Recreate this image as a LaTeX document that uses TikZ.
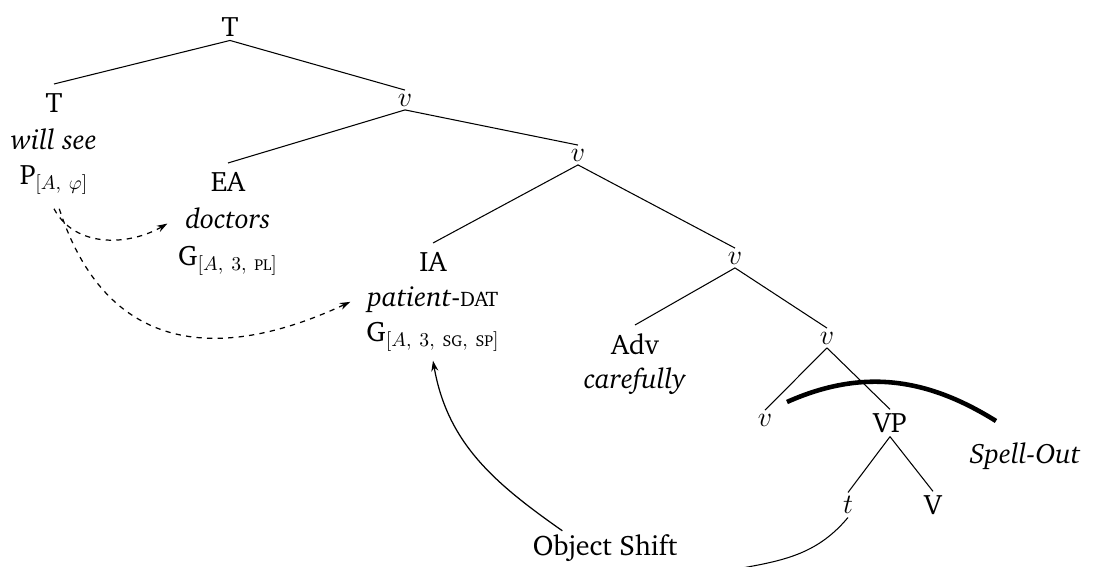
\RequirePackage{fix-cm}
\documentclass[tikz,border=0pt]{standalone}
\usepackage[T1]{fontenc}
\renewcommand{\rmdefault}{bch}
\usepackage{amsmath}
\usetikzlibrary{arrows.meta}
\newcommand{\fsc}[1]{\MakeUppercase{#1}}

\begin{document}
\begin{tikzpicture} [
      x=0.02cm, y=-0.02cm,
      font=\fontsize{16}{19}\selectfont,
      >={Stealth[length=6pt, width=4pt]},
      cat/.style={inner sep=2pt, align=center},
      phrase/.style={inner xsep=2pt, inner ysep=5pt, align=center, anchor=north},
      branch/.style={line width=0.6pt},
      agree/.style={->, dashed, line width=0.7pt},
      move/.style={->, line width=0.7pt},
      spell/.style={line width=2.6pt}
  ]
  \useasboundingbox (0,0) rectangle (1100,567);
  \node[cat] (troot) at (230,27) {T};
  \node[phrase] (thead) at (54,84) {T\\[2pt] \textit{will see}\\[1pt] P$_{[A,\ \varphi]}$};
  \node[cat] (v1) at (405,100) {$v$};
  \node[phrase] (ea) at (228,163) {EA\\[2pt] \textit{doctors}\\[2pt] G$_{[A,\ 3,\ \text{\small\fsc{pl}}]}$};
  \node[cat] (v2) at (578,155) {$v$};
  \node[phrase] (ia) at (433,243) {IA\\[1pt] \textit{patient}-{\large\fsc{dat}}\\[1pt] G$_{[A,\ 3,\ \text{\small\fsc{sg}},\ \text{\small\fsc{sp}}]}$};
  \node[cat] (v3) at (735,258) {$v$};
  \node[phrase] (adv) at (635,325) {Adv\\ \textit{carefully}};
  \node[cat] (v4) at (827,338) {$v$};
  \node[cat] (v5) at (765,420) {$v$};
  \node[cat] (vp) at (890,423) {VP};
  \node[cat] (trace) at (848,505) {$t$};
  \node[cat] (verb) at (933,505) {V};
  \node[cat] (so) at (1025,456) {\textit{Spell-Out}};
  \node[cat] (os) at (605,548) {Object Shift};
  \coordinate (sostart) at (787,402);
  \coordinate (soend) at (996,421);
  \coordinate (osend) at (742,568);

  \draw[branch] (troot.south) -- (thead.north);
  \draw[branch] (troot.south) -- (v1.north);
  \draw[branch] (v1.south) -- (ea.north);
  \draw[branch] (v1.south) -- (v2.north);
  \draw[branch] (v2.south) -- (ia.north);
  \draw[branch] (v2.south) -- (v3.north);
  \draw[branch] (v3.south) -- (adv.north);
  \draw[branch] (v3.south) -- (v4.north);
  \draw[branch] (v4.south) -- (v5.north);
  \draw[branch] (v4.south) -- (vp.north);
  \draw[branch] (vp.south) -- (trace.north);
  \draw[branch] (vp.south) -- (verb.north);

  \draw[agree] ([yshift=-3pt]thead.south) to[out=-62, in=210] ([xshift=-4pt]ea.west);
  \draw[agree] ([xshift=3pt, yshift=-3pt]thead.south) to[out=-72, in=205, looseness=1.25] ([xshift=-7pt]ia.west);
  \draw[move] (os.158) to[out=145, in=-80] (ia.south);
  \draw[branch] (trace.south) to[out=-130, in=10] (osend);
  \draw[spell] (sostart) to[out=24, in=148] (soend);
  \end{tikzpicture}
\end{document}
